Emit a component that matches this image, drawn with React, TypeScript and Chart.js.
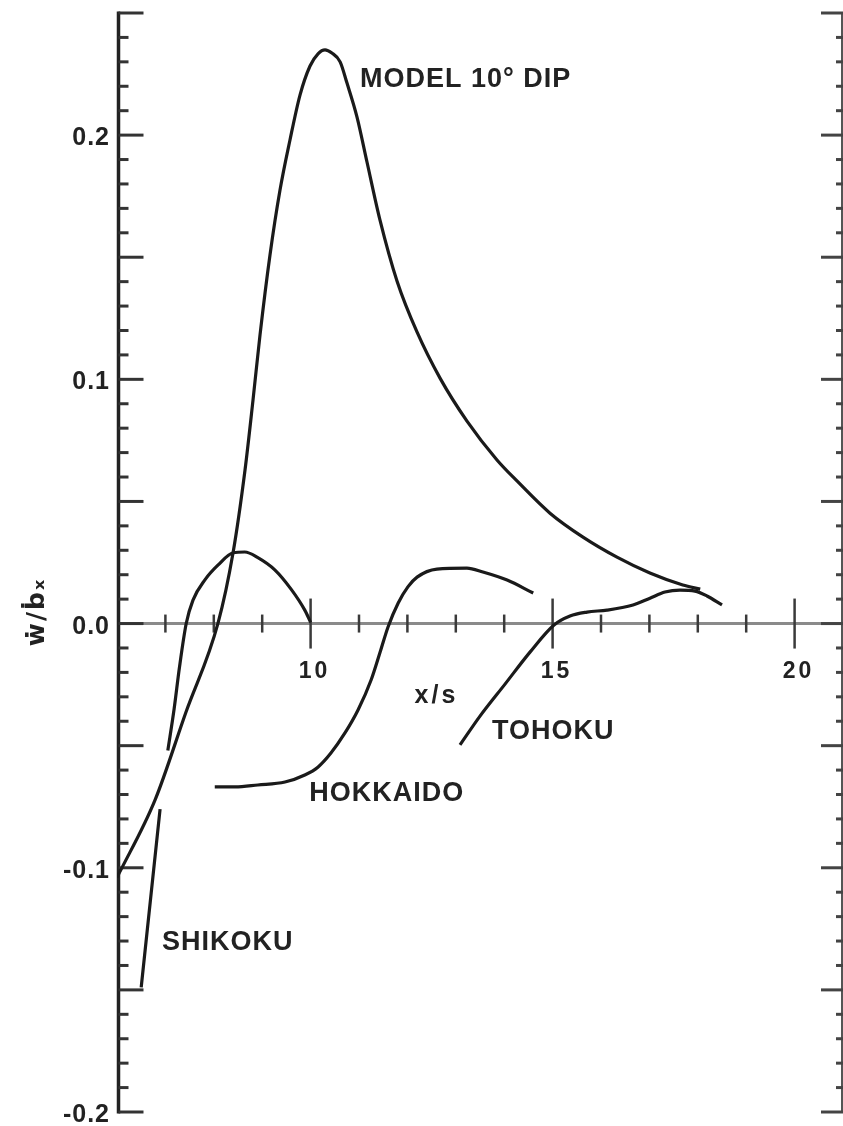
import { useEffect, useRef } from "react";
import { Chart, registerables } from "chart.js";

Chart.register(...registerables);

// ---- Data ----
const modelX = [6.0, 6.785, 7.426, 8.087, 8.397, 8.645, 8.81, 8.955, 9.161, 9.368, 9.574, 9.781, 9.988, 10.153, 10.298, 10.44, 10.61, 10.752, 10.959, 11.165, 11.434, 11.785, 12.198, 12.674, 13.231, 13.851, 14.264, 14.946, 15.628, 16.33, 17.01, 17.69, 18.05];
const modelY = [-0.104, -0.0723, -0.0362, 0.0002, 0.0289, 0.0629, 0.0915, 0.1182, 0.1509, 0.1775, 0.198, 0.2164, 0.2283, 0.2333, 0.2349, 0.2336, 0.23, 0.2213, 0.2074, 0.189, 0.1652, 0.1403, 0.1194, 0.1005, 0.0829, 0.067, 0.0584, 0.0452, 0.0354, 0.0272, 0.0207, 0.0158, 0.0141];

const shikokuX = [6.5, 6.89, NaN, 7.05, 7.18, 7.29, 7.43, 7.57, 7.82, 8.09, 8.40, 8.64, 8.91, 9.26, 9.60, 9.88, 10.0];
const shikokuY = [-0.149, -0.076, NaN, -0.052, -0.035, -0.018, 0.0, 0.0096, 0.018, 0.024, 0.029, 0.0293, 0.027, 0.022, 0.014, 0.0055, 0.0005];

const hokkaidoX = [8.02, 8.44, 8.91, 9.47, 9.88, 10.15, 10.42, 10.71, 10.98, 11.25, 11.45, 11.60, 11.81, 12.01, 12.20, 12.61, 13.23, 13.56, 14.06, 14.60];
const hokkaidoY = [-0.0669, -0.0669, -0.0661, -0.0649, -0.0620, -0.0588, -0.0530, -0.0448, -0.0354, -0.0231, -0.0108, -0.0014, 0.0084, 0.0150, 0.0190, 0.0223, 0.0227, 0.0211, 0.0178, 0.0125];

const tohokuX = [13.087, 13.5, 14.017, 14.533, 15.029, 15.36, 15.711, 16.124, 16.661, 17.012, 17.322, 17.632, 17.942, 18.19, 18.5];
const tohokuY = [-0.0497, -0.0379, -0.0248, -0.0117, -0.0006, 0.0031, 0.0047, 0.0055, 0.0076, 0.0104, 0.0129, 0.0137, 0.0133, 0.0113, 0.0076];

const yTickValues = [0.2, 0.1, 0.0, -0.1, -0.2];
const yTickLabels = ["0.2", "0.1", "0.0", "-0.1", "-0.2"];
const xTickValues = [10, 15, 20];
const xTickLabels = ["10", "15", "20"];

const curveLabels = [
  { text: "MODEL 10° DIP", x: 11.02, y: 0.2197 },
  { text: "HOKKAIDO", x: 9.97, y: -0.0726 },
  { text: "TOHOKU", x: 13.75, y: -0.0472 },
  { text: "SHIKOKU", x: 6.93, y: -0.1337 },
];

const toPoints = (xs: number[], ys: number[]) =>
  xs.map((x, i) => ({ x: isNaN(x) ? null : x, y: isNaN(ys[i]) ? null : ys[i] }));

const axesPlugin = {
  id: "paperAxes",
  beforeDatasetsDraw(chart: any) {
    const { ctx, chartArea, scales } = chart;
    const xs = scales.x;
    const ys = scales.y;
    const L = chartArea.left + 1.5;
    const R = chartArea.right - 1.5;
    const y0 = ys.getPixelForValue(0);
    ctx.save();
    // zero line
    ctx.strokeStyle = "#8a8a8a";
    ctx.lineWidth = 3;
    ctx.beginPath();
    ctx.moveTo(L, y0);
    ctx.lineTo(R, y0);
    ctx.stroke();
    // x ticks on zero line
    ctx.strokeStyle = "#3a3a3a";
    ctx.lineWidth = 2.5;
    for (let i = 7; i <= 20; i++) {
      const px = xs.getPixelForValue(i);
      const len = i % 5 === 0 ? 25 : 9;
      ctx.beginPath();
      ctx.moveTo(px, y0 - len);
      ctx.lineTo(px, y0 + len);
      ctx.stroke();
    }
    // left axis
    ctx.strokeStyle = "#222";
    ctx.lineWidth = 3.5;
    ctx.beginPath();
    ctx.moveTo(L, ys.getPixelForValue(0.25) - 1.5);
    ctx.lineTo(L, ys.getPixelForValue(-0.2) + 1.5);
    ctx.stroke();
    // right axis
    ctx.strokeStyle = "#555";
    ctx.lineWidth = 2;
    ctx.beginPath();
    ctx.moveTo(R + 0.5, ys.getPixelForValue(0.25));
    ctx.lineTo(R + 0.5, ys.getPixelForValue(-0.2));
    ctx.stroke();
    // y ticks both sides
    for (let i = -20; i <= 25; i++) {
      const v = i / 100;
      const py = ys.getPixelForValue(v);
      const major = i % 5 === 0;
      ctx.strokeStyle = "#333";
      ctx.lineWidth = 3;
      ctx.beginPath();
      ctx.moveTo(L, py);
      ctx.lineTo(L + (major ? 25 : 10), py);
      ctx.stroke();
      ctx.strokeStyle = "#444";
      ctx.beginPath();
      ctx.moveTo(R + 1.5, py);
      ctx.lineTo(R + 1.5 - (major ? 22 : 7), py);
      ctx.stroke();
    }
    ctx.restore();
  },
  afterDatasetsDraw(chart: any) {
    const { ctx, scales } = chart;
    const xs = scales.x;
    const ys = scales.y;
    const y0 = ys.getPixelForValue(0);
    ctx.save();
    ctx.fillStyle = "#222";
    (ctx as any).letterSpacing = "1px";
    // y tick labels
    ctx.font = "bold 25px 'Liberation Sans', Arial, sans-serif";
    ctx.textAlign = "right";
    ctx.textBaseline = "alphabetic";
    yTickValues.forEach((v, i) => {
      ctx.fillText(yTickLabels[i], 110, ys.getPixelForValue(v) + 10);
    });
    // x tick labels
    (ctx as any).letterSpacing = "3px";
    ctx.font = "bold 23px 'Liberation Sans', Arial, sans-serif";
    ctx.textAlign = "center";
    xTickValues.forEach((v, i) => {
      ctx.fillText(xTickLabels[i], xs.getPixelForValue(v) + 4, y0 + 54);
    });
    // x axis title
    ctx.font = "bold 25px 'Liberation Sans', Arial, sans-serif";
    ctx.fillText("x/s", xs.getPixelForValue(12.6), y0 + 79);
    // curve labels
    (ctx as any).letterSpacing = "1px";
    ctx.font = "bold 27px 'Liberation Sans', Arial, sans-serif";
    ctx.textAlign = "left";
    curveLabels.forEach((c) => {
      ctx.fillText(c.text, xs.getPixelForValue(c.x), ys.getPixelForValue(c.y));
    });
    // y axis title (rotated)
    (ctx as any).letterSpacing = "2px";
    ctx.translate(37, 612);
    ctx.rotate(-Math.PI / 2);
    ctx.font = "bold 25px 'DejaVu Sans', sans-serif";
    ctx.textAlign = "center";
    ctx.textBaseline = "middle";
    ctx.fillText("ẇ/ḃₓ", 0, 0);
    ctx.restore();
  },
};

export default function App() {
  const ref = useRef<HTMLCanvasElement>(null);
  useEffect(() => {
    const canvas = ref.current;
    if (!canvas) return;
    const line = { borderColor: "#1a1a1a", borderWidth: 3.2, pointRadius: 0, showLine: true, cubicInterpolationMode: "monotone" as const, spanGaps: false };
    const chart = new Chart(canvas, {
      type: "scatter",
      data: {
        datasets: [
          { label: "MODEL 10° DIP", data: toPoints(modelX, modelY) as any, ...line },
          { label: "SHIKOKU", data: toPoints(shikokuX, shikokuY) as any, ...line },
          { label: "HOKKAIDO", data: toPoints(hokkaidoX, hokkaidoY) as any, ...line },
          { label: "TOHOKU", data: toPoints(tohokuX, tohokuY) as any, ...line },
        ],
      },
      options: {
        responsive: false,
        animation: false,
        devicePixelRatio: 1,
        layout: { padding: { left: 117, right: 0, top: 13, bottom: 14 } },
        plugins: { legend: { display: false }, tooltip: { enabled: false } },
        scales: {
          x: { type: "linear", min: 6, max: 21, display: false },
          y: { type: "linear", min: -0.2, max: 0.25, display: false },
        },
      },
      plugins: [axesPlugin],
    });
    return () => chart.destroy();
  }, []);
  return (
    <div style={{ position: "absolute", left: 0, top: 0, width: 843, height: 1126, background: "#fff" }}>
      <canvas ref={ref} width={843} height={1126} style={{ width: 843, height: 1126, display: "block" }} />
    </div>
  );
}
